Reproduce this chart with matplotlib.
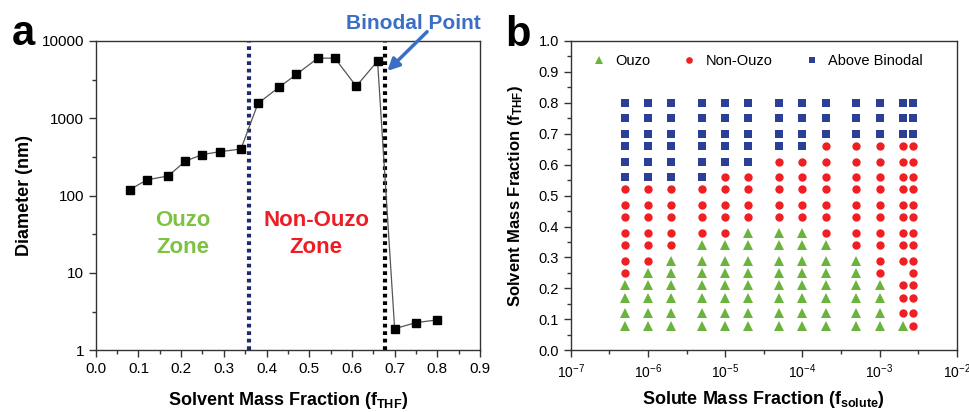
import numpy as np
import matplotlib
matplotlib.use('Agg')
from matplotlib import pyplot as plt
from matplotlib import ticker

plt.rcParams['font.family'] = ['Liberation Sans', 'DejaVu Sans']
plt.rcParams['mathtext.fontset'] = 'custom'
plt.rcParams['mathtext.rm'] = 'Liberation Sans'
plt.rcParams['mathtext.bf'] = 'Liberation Sans:bold'
plt.rcParams['mathtext.default'] = 'regular'

# panel a: particle diameter vs solvent mass fraction
f_thf = [0.08, 0.12, 0.17, 0.21, 0.25, 0.29, 0.34, 0.38, 0.43, 0.47,
         0.52, 0.56, 0.61, 0.66, 0.70, 0.75, 0.80]
diameter = [120, 160, 180, 280, 340, 370, 400, 1560, 2540, 3700,
            6000, 6000, 2600, 5500, 1.9, 2.28, 2.47]
ouzo_boundary = 0.36
binodal = 0.677

# panel b: phase map, one string per solute column, bottom row first
# O = Ouzo, N = Non-Ouzo, B = Above Binodal, - = no sample
f_solute = [5e-7, 1e-6, 2e-6, 5e-6, 1e-5, 2e-5, 5e-5, 1e-4, 2e-4, 5e-4,
            1e-3, 2e-3, 2.75e-3]
f_solvent = [0.08, 0.12, 0.17, 0.21, 0.25, 0.29, 0.34, 0.38, 0.43, 0.47,
             0.52, 0.56, 0.61, 0.66, 0.70, 0.75, 0.80]
phase = [
    'OOOONNNNNNNBBBBBB',
    'OOOOONNNNNNBBBBBB',
    'OOOOOONNNNNBBBBBB',
    'OOOOOOONNNNBBBBBB',
    'OOOOOOONNNNNBBBBB',
    'OOOOOOOONNNNBBBBB',
    'OOOOOOOONNNNNBBBB',
    'OOOOOOOONNNNNBBBB',
    'OOOOOOONNNNNNNBBB',
    'OOOOOONNNNNNNNBBB',
    'OOOONNNNNNNNNNBBB',
    'ONNN-NNNNNNNNNBBB',
    'NNNNNNNNNNNNNNBBB',
]

fig = plt.figure(figsize=(9.69, 4.12), dpi=100)
axa = fig.add_axes([0.0988, 0.1498, 0.3966, 0.7507])
axb = fig.add_axes([0.589, 0.1498, 0.3983, 0.7507])

spine_col = '#333333'
for ax in (axa, axb):
    for s in ax.spines.values():
        s.set_linewidth(1.0)
        s.set_color(spine_col)
    ax.tick_params(which='major', direction='out', length=5, width=1.0,
                   color=spine_col, labelsize=11)
    ax.tick_params(which='minor', direction='out', length=3, width=1.0,
                   color=spine_col)

# ---- panel a ----
axa.plot(f_thf, diameter, color='#555555', lw=0.9, marker='s',
         markersize=5.5, markerfacecolor='black', markeredgecolor='black', zorder=3)
axa.axvline(ouzo_boundary, color='#1f2a6e', lw=3, ls=(0, (0.9, 0.9)), zorder=2)
axa.axvline(binodal, color='black', lw=3, ls=(0, (0.9, 0.9)), zorder=2)
axa.set_yscale('log')
axa.set_xlim(0, 0.9)
axa.set_ylim(1, 10000)
axa.xaxis.set_major_locator(ticker.MultipleLocator(0.1))
axa.xaxis.set_minor_locator(ticker.MultipleLocator(0.05))
axa.xaxis.set_major_formatter(ticker.FormatStrFormatter('%.1f'))
axa.yaxis.set_major_locator(ticker.FixedLocator([1, 10, 100, 1000, 10000]))
axa.yaxis.set_major_formatter(ticker.FuncFormatter(lambda v, p: '%d' % v))
axa.yaxis.set_minor_locator(ticker.FixedLocator([10 ** (k + 0.5) for k in range(4)]))
axa.yaxis.set_minor_formatter(ticker.NullFormatter())
axa.set_xlabel(r'Solvent Mass Fraction ($\mathbf{f_{THF}}$)', fontsize=13,
               fontweight='bold', labelpad=10)
axa.set_ylabel('Diameter (nm)', fontsize=13, fontweight='bold', labelpad=6)
axa.text(0.204, 32, 'Ouzo\nZone', color='#7dc242', fontsize=16, fontweight='bold',
         ha='center', va='center', linespacing=1.4)
axa.text(0.516, 32, 'Non-Ouzo\nZone', color='#ee1c25', fontsize=16, fontweight='bold',
         ha='center', va='center', linespacing=1.4)
axa.text(0.743, 1.058, 'Binodal Point', color='#3a6fc4', fontsize=15,
         fontweight='bold', ha='center', va='center',
         transform=axa.get_xaxis_transform(), clip_on=False)
ann = axa.annotate('', xy=(0.683, 4100), xycoords='data',
                   xytext=(0.776, 1.03), textcoords=axa.get_xaxis_transform(),
                   annotation_clip=False,
                   arrowprops=dict(arrowstyle='-|>,head_length=0.7,head_width=0.35',
                                   color='#3a6fc4', lw=2.5, shrinkA=0, shrinkB=0))
ann.arrow_patch.set_clip_on(False)

# ---- panel b ----
styles = {'O': ('^', '#6ab43e', 6.5, 'Ouzo'),
          'N': ('o', '#ee2024', 6.0, 'Non-Ouzo'),
          'B': ('s', '#2b3f97', 5.2, 'Above Binodal')}
for key in ['O', 'N', 'B']:
    mk, col, ms, lab = styles[key]
    xs, ys = [], []
    for xi, col_str in zip(f_solute, phase):
        for yi, c in zip(f_solvent, col_str):
            if c == key:
                xs.append(xi)
                ys.append(yi)
    axb.plot(xs, ys, ls='none', marker=mk, color=col, markersize=ms,
             markeredgewidth=0, label=lab)
axb.set_xscale('log')
axb.set_xlim(1e-7, 1e-2)
axb.set_ylim(0, 1.0)
axb.yaxis.set_major_locator(ticker.MultipleLocator(0.1))
axb.yaxis.set_minor_locator(ticker.MultipleLocator(0.05))
axb.yaxis.set_major_formatter(ticker.FormatStrFormatter('%.1f'))
axb.xaxis.set_major_locator(ticker.FixedLocator([10.0 ** k for k in range(-7, -1)]))
axb.xaxis.set_major_formatter(ticker.FuncFormatter(
    lambda v, p: r'$10^{%d}$' % round(np.log10(v))))
axb.xaxis.set_minor_locator(ticker.FixedLocator([10 ** (k + 0.5) for k in range(-7, -2)]))
axb.xaxis.set_minor_formatter(ticker.NullFormatter())
axb.tick_params(axis='y', which='major', labelsize=10.5)
axb.tick_params(axis='x', which='major', labelsize=10)
axb.set_xlabel(r'Solute Mass Fraction ($\mathbf{f_{solute}}$)', fontsize=13,
               fontweight='bold', labelpad=6)
axb.set_ylabel(r'Solvent Mass Fraction ($\mathbf{f_{THF}}$)', fontsize=12,
               fontweight='bold', labelpad=10)
leg = axb.legend(ncol=3, loc='upper left', bbox_to_anchor=(0.02, 1.0), frameon=False,
                 fontsize=10.5, handlelength=1.0, handletextpad=0.6,
                 columnspacing=2.2, markerscale=0.8)

fig.text(0.012, 0.891, 'a', fontsize=30, fontweight='bold', ha='left', va='baseline')
fig.text(0.521, 0.889, 'b', fontsize=30, fontweight='bold', ha='left', va='baseline')

fig.savefig('out.png', dpi=100)
